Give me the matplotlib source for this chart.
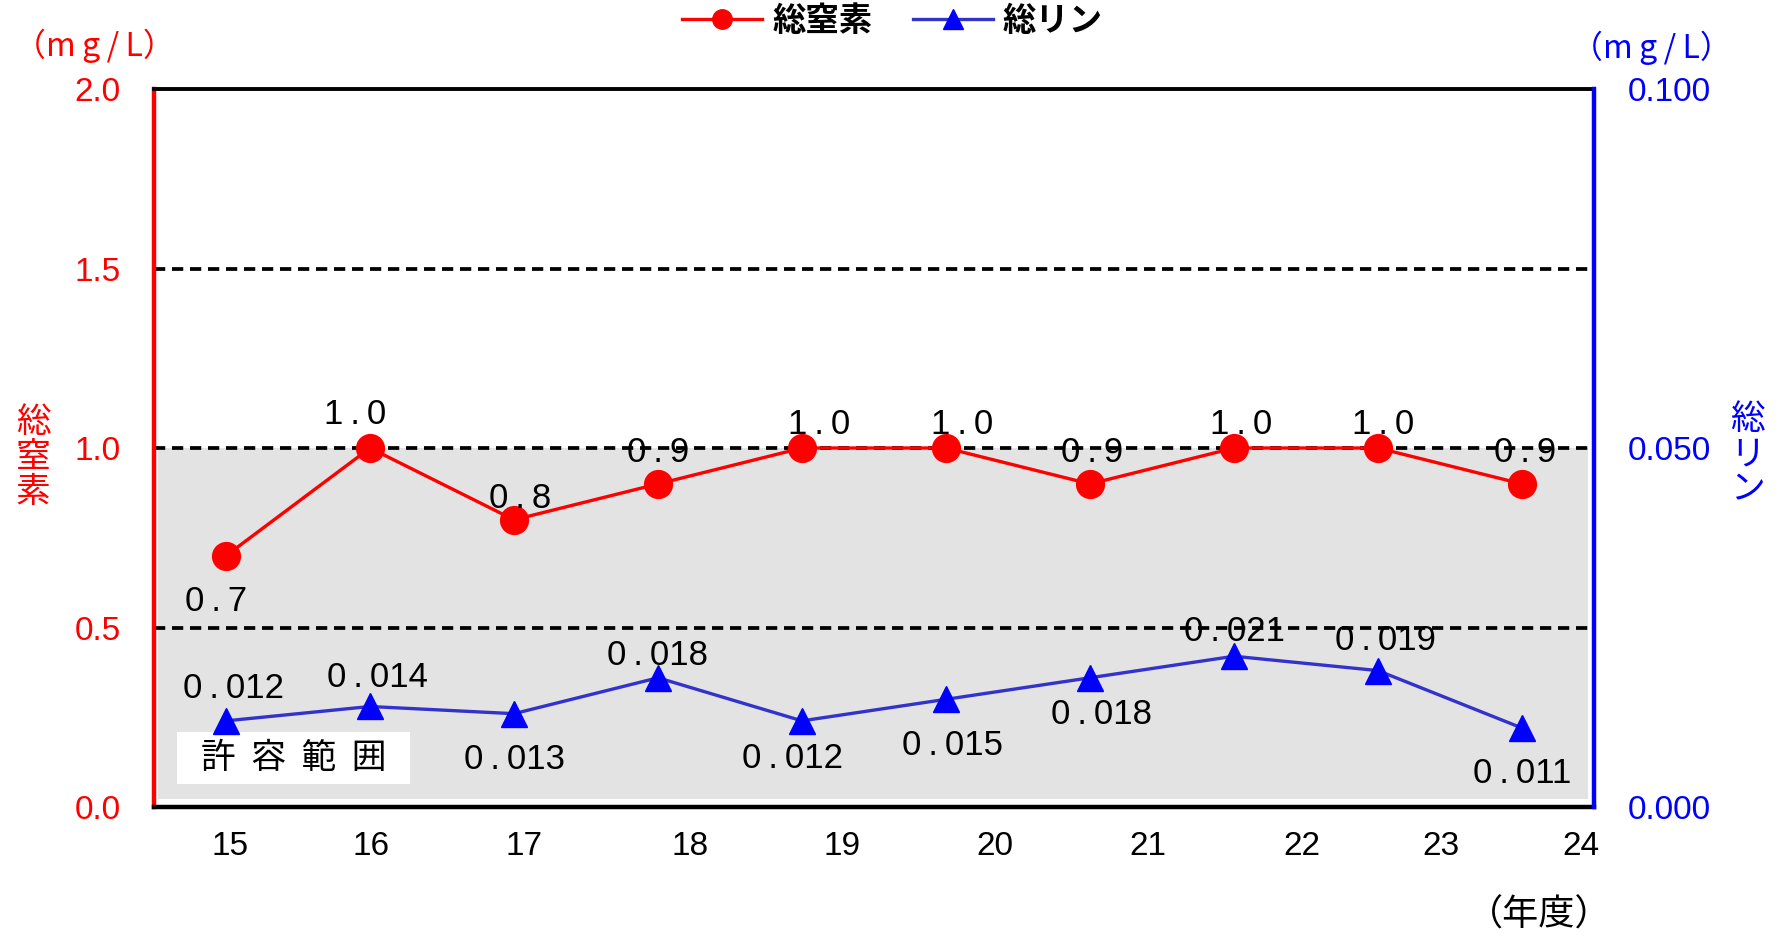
import matplotlib
matplotlib.use("Agg")
import matplotlib.pyplot as plt
from matplotlib.lines import Line2D
from matplotlib.patches import Rectangle
from matplotlib.ticker import FormatStrFormatter

# ---- data ----
years = ["15", "16", "17", "18", "19", "20", "21", "22", "23", "24"]
tn_values = [0.7, 1.0, 0.8, 0.9, 1.0, 1.0, 0.9, 1.0, 1.0, 0.9]          # 総窒素 (mg/L)
tp_values = [0.012, 0.014, 0.013, 0.018, 0.012, 0.015, 0.018, 0.021, 0.019, 0.011]  # 総リン (mg/L)
tn_labels = ["0.7", "1.0", "0.8", "0.9", "1.0", "1.0", "0.9", "1.0", "1.0", "0.9"]
tp_labels = ["0.012", "0.014", "0.013", "0.018", "0.012", "0.015", "0.018", "0.021", "0.019", "0.011"]
left_ticks = [0.0, 0.5, 1.0, 1.5, 2.0]
right_ticks = [0.0, 0.05, 0.10]
allow_low, allow_high = 0.0, 1.0   # 許容範囲 (総窒素)

# ---- style / layout ----
tick_pos = [0.03, 1.01, 2.07, 3.22, 4.28, 5.34, 6.40, 7.47, 8.44, 9.41]
tn_off = [(-10, -46), (-15, 34), (6, 21), (0, 31), (17, 24), (16, 24), (2, 31), (7, 24), (5, 24), (3, 31)]
tp_off = [(7, 32), (7, 29), (0, -46), (-1, 22), (-10, -38), (6, -46), (11, -37), (0, 25), (7, 30), (0, -45)]

RED = "#FF0000"
BLUE = "#0000FF"
BLUE_LINE = "#3333CC"
GRAY = "#E3E3E3"
CJK = ["Noto Sans CJK JP", "DejaVu Sans"]
SANS = ["Liberation Sans", "DejaVu Sans"]
NARROW = ["Liberation Sans Narrow", "Liberation Sans", "DejaVu Sans"]


def spaced(s):
    return s.replace(".", "\u2009.\u2009")


fig = plt.figure(figsize=(17.85, 9.36), dpi=100)
ax = fig.add_axes([0.0863, 0.1378, 0.8067, 0.7671])
ax2 = ax.twinx()

x = list(range(len(years)))
ax.set_xlim(-0.5, len(years) - 0.5)
ax.set_ylim(0, 2.0)
ax2.set_ylim(0, 0.10)

# allowable range band
ax.axhspan(allow_low + 0.022, allow_high, xmin=0.003, xmax=0.9958, color=GRAY, zorder=0, lw=0)

# grid lines
for yv in left_ticks[1:-1]:
    ax.axhline(yv, color="black", lw=2.7, ls=(0, (3, 1.8)), zorder=1)

# 許容範囲 box
ax.add_patch(Rectangle((-0.34, 0.064), 1.62, 0.145, facecolor="white", edgecolor="none", zorder=1))
ax.text(0.47, 0.136, "許  容  範  囲", ha="center", va="center", fontsize=25,
        family=CJK, color="black", zorder=2)

# series
ax.plot(x, tn_values, color=RED, lw=2.4, marker="o", ms=20, mfc=RED, mec=RED, zorder=3)
ax2.plot(x, tp_values, color=BLUE_LINE, lw=2.4, marker="^", ms=19, mfc=BLUE, mec=BLUE, zorder=3)

for xi, v, lab, (dx, dy) in zip(x, tn_values, tn_labels, tn_off):
    ax.annotate(spaced(lab), (xi, v), xytext=(dx, dy), textcoords="offset pixels",
                ha="center", va="center", fontsize=25, family=SANS, color="black", zorder=4)
for xi, v, lab, (dx, dy) in zip(x, tp_values, tp_labels, tp_off):
    ax2.annotate(spaced(lab), (xi, v), xytext=(dx, dy), textcoords="offset pixels",
                 ha="center", va="center", fontsize=25, family=SANS, color="black", zorder=4)

# spines
for s in ["left", "right", "top", "bottom"]:
    ax2.spines[s].set_visible(s == "right")
ax.spines["right"].set_visible(False)
ax.spines["left"].set_color(RED)
ax.spines["left"].set_linewidth(3.2)
ax.spines["top"].set_color("black")
ax.spines["top"].set_linewidth(2.8)
ax.spines["bottom"].set_color("black")
ax.spines["bottom"].set_linewidth(3.2)
ax2.spines["right"].set_color(BLUE)
ax2.spines["right"].set_linewidth(3.2)

# ticks
ax.set_xticks(tick_pos)
ax.set_xticklabels(years, family=NARROW, fontsize=24)
ax.tick_params(axis="x", length=0, pad=17)
ax.set_yticks(left_ticks)
ax.yaxis.set_major_formatter(FormatStrFormatter("%.1f"))
ax.tick_params(axis="y", length=0, pad=24, labelcolor=RED, labelsize=24)
ax2.set_yticks(right_ticks)
ax2.yaxis.set_major_formatter(FormatStrFormatter("%.3f"))
ax2.tick_params(axis="y", length=0, pad=24, labelcolor=BLUE, labelsize=24)
for lab in ax.get_yticklabels() + ax2.get_yticklabels():
    lab.set_family(SANS)

# axis titles / units
fig.text(0.0185, 0.511, "総\n窒\n素", color=RED, ha="center", va="center", fontsize=25,
         family=CJK, linespacing=1.0)
fig.text(0.979, 0.514, "総\nリ\nン", color=BLUE, ha="center", va="center", fontsize=25,
         family=CJK, linespacing=1.0)
fig.text(0.053, 0.951, "（m\u2009g\u2009/\u2009L）", color=RED, ha="center", va="center", fontsize=23, family=CJK)
fig.text(0.925, 0.949, "（m\u2009g\u2009/\u2009L）", color=BLUE, ha="center", va="center", fontsize=23, family=CJK)
fig.text(0.862, 0.022, "（年度）", color="black", ha="center", va="center", fontsize=26, family=CJK)

# legend
handles = [
    Line2D([], [], color=RED, lw=2.4, marker="o", ms=14, mfc=RED, mec=RED),
    Line2D([], [], color=BLUE_LINE, lw=2.4, marker="^", ms=14, mfc=BLUE, mec=BLUE),
]
fig.legend(handles, ["総窒素", "総リン"], loc="center", bbox_to_anchor=(0.5, 0.977), ncol=2,
           frameon=False, prop={"family": CJK, "size": 24, "weight": "bold"},
           handlelength=2.4, handletextpad=0.3, columnspacing=1.2)

fig.savefig("out.png", dpi=100)
